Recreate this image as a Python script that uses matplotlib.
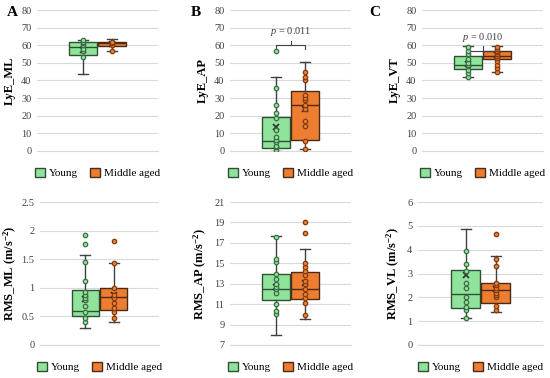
import matplotlib
matplotlib.use('Agg')
import matplotlib.pyplot as plt
from matplotlib.patches import Patch

plt.rcParams['font.family'] = 'serif'
plt.rcParams['font.serif'] = ['Liberation Serif', 'DejaVu Serif']
plt.rcParams['mathtext.fontset'] = 'custom'
plt.rcParams['mathtext.it'] = 'Liberation Serif:italic'
plt.rcParams['mathtext.rm'] = 'Liberation Serif'
plt.rcParams['mathtext.bf'] = 'Liberation Serif:bold'

groups = ['Young', 'Middle aged']
panel_letters = ['A', 'B', 'C', '', '', '']
ylabels = ['LyE_ML', 'LyE_AP', 'LyE_VT',
           'RMS_ML (m/s$^{\\mathbf{-2}}$)', 'RMS_AP (m/s$^{\\mathbf{-2}}$)',
           'RMS_VL (m/s$^{\\mathbf{-2}}$)']
yticks = [[0, 10, 20, 30, 40, 50, 60, 70, 80]] * 3 + [
    [0, 0.5, 1, 1.5, 2, 2.5],
    [7, 9, 11, 13, 15, 17, 19, 21],
    [0, 1, 2, 3, 4, 5, 6]]
ytick_labels = [['0', '10', '20', '30', '40', '50', '60', '70', '80']] * 3 + [
    ['0', '0.5', '1', '1.5', '2', '2.5'],
    ['7', '9', '11', '13', '15', '17', '19', '21'],
    ['0', '1', '2', '3', '4', '5', '6']]
p_values = ['', 'p = 0.011', 'p = 0.010', '', '', '']
p_heights = [None, 60, 57, None, None, None]

# box stats per panel: (whislo, q1, median, q3, whishi, mean)
young_stats = [
    (43.5, 54.5, 59.0, 62.0, 63.0, 57.5),
    (0.2, 1.5, 5.5, 19.5, 42.0, 13.5),
    (42.0, 46.5, 49.0, 54.0, 59.5, 49.5),
    (0.30, 0.51, 0.60, 0.97, 1.57, 0.80),
    (8.0, 11.4, 12.5, 14.0, 17.7, 12.7),
    (1.15, 1.55, 2.12, 3.13, 4.88, 2.95)]
middle_stats = [
    (56.5, 59.5, 61.0, 62.0, 63.5, 60.5),
    (1.0, 6.0, 26.0, 34.0, 50.5, 24.0),
    (45.0, 52.0, 54.0, 57.0, 59.5, 54.5),
    (0.40, 0.62, 0.84, 0.99, 1.43, 0.87),
    (9.5, 11.5, 12.5, 14.1, 16.4, 13.1),
    (1.37, 1.78, 2.30, 2.60, 3.73, 2.35)]

young_points = [
    [53.5, 57, 58, 60, 61, 62, 63],
    [0.5, 2, 3, 5, 6, 8, 12, 19, 21.5, 26, 35.5, 57],
    [42, 44, 46, 48, 49, 50, 52, 55, 57, 59],
    [0.40, 0.48, 0.57, 0.68, 0.78, 0.82, 0.88, 0.93, 1.12, 1.45, 1.77, 1.93],
    [10, 10.3, 11, 12.1, 12.5, 12.7, 13, 13.5, 14, 15.1, 15.4, 17.6],
    [1.15, 1.45, 1.6, 1.8, 2.0, 2.4, 2.6, 3.1, 3.4, 3.93]]
middle_points = [
    [56.5, 60, 61, 62],
    [1, 5.5, 14, 17, 24, 26, 29, 30, 32, 40, 42, 45],
    [45, 47, 49, 51, 53, 54, 55, 56, 57, 58, 59],
    [0.47, 0.57, 0.65, 0.73, 0.83, 0.88, 1.0, 1.43, 1.82],
    [9.9, 11.1, 11.6, 12, 12.5, 13, 13.3, 13.9, 14.2, 14.6, 15, 18, 19],
    [1.47, 1.65, 2.0, 2.1, 2.2, 2.3, 2.4, 2.5, 2.6, 3.3, 3.6, 4.66]]

fills = ['#8fe39b', '#ed7d31']
edges = ['#2f4f34', '#4a2a15']
pt_edges = ['#3d6e45', '#843c0c']

W, H = 550, 378
fig = plt.figure(figsize=(5.5, 3.78), dpi=100)

rects = [(37, 158, 10, 151), (230, 351, 10, 151), (422, 543, 10, 151),
         (40, 159, 202, 345), (230, 351, 202, 345), (418, 543, 202, 345)]
label_pads = [4, 4, 4, 2, 4, 4]
letter_x = [12, 196, 375]
legend_y = [173, 367]

positions = [0.38, 0.62]
bw = 0.23

for i in range(6):
    x0, x1, yt, yb = rects[i]
    ax = fig.add_axes([x0 / W, (H - yb) / H, (x1 - x0) / W, (yb - yt) / H])
    stats = []
    for st in (young_stats[i], middle_stats[i]):
        lo, q1, med, q3, hi, mean = st
        stats.append(dict(whislo=lo, q1=q1, med=med, q3=q3, whishi=hi, mean=mean, fliers=[]))
    bp = ax.bxp(stats, positions=positions, widths=bw, patch_artist=True,
                showmeans=True, showfliers=False, capwidths=0.08)
    for k in range(2):
        bp['boxes'][k].set(facecolor=fills[k], edgecolor=edges[k], linewidth=1.0)
        bp['medians'][k].set(color=edges[k], linewidth=1.0)
        for w in bp['whiskers'][2 * k:2 * k + 2]:
            w.set(color='#404040', linewidth=1.0)
        for c in bp['caps'][2 * k:2 * k + 2]:
            c.set(color='#404040', linewidth=1.0)
        bp['means'][k].set(marker='x', markeredgecolor='#303030', markersize=5,
                           markeredgewidth=1.2)
    for k, pts in enumerate((young_points[i], middle_points[i])):
        ax.plot([positions[k]] * len(pts), pts, linestyle='none', marker='o',
                markersize=3.2, markerfacecolor=fills[k], markeredgecolor=pt_edges[k],
                markeredgewidth=0.9, zorder=4)
    ax.set_xlim(0, 1)
    ax.set_ylim(yticks[i][0], yticks[i][-1])
    ax.set_yticks(yticks[i])
    ax.set_yticklabels(ytick_labels[i])
    ax.set_xticks([])
    ax.tick_params(axis='y', length=0, labelsize=7.5, labelcolor='#404040', pad=4)
    ax.grid(axis='y', color='#d9d9d9', linewidth=0.8)
    ax.set_axisbelow(True)
    for s in ('top', 'right', 'left'):
        ax.spines[s].set_visible(False)
    ax.spines['bottom'].set_color('#d9d9d9')
    ax.set_ylabel(ylabels[i], fontsize=9, fontweight='bold', labelpad=label_pads[i])
    if panel_letters[i]:
        fig.text(letter_x[i] / W, 1 - 13 / H, panel_letters[i], fontsize=11,
                 fontweight='bold', ha='center', va='center')
    if p_values[i]:
        yb_ = p_heights[i]
        rng = yticks[i][-1] - yticks[i][0]
        d = rng * 0.03
        ax.plot([positions[0], positions[0], positions[1], positions[1]],
                [yb_ - d, yb_, yb_, yb_ - d], color='#404040', linewidth=0.8)
        ax.plot([0.5, 0.5], [yb_, yb_ + d], color='#404040', linewidth=0.8)
        ax.text(0.5, yb_ + 1.6 * d, r'$\it{p}$' + p_values[i][1:], ha='center',
                va='bottom', fontsize=7.5, color='#404040')
    handles = [Patch(facecolor=fills[k], edgecolor=edges[k], label=groups[k]) for k in range(2)]
    ly = legend_y[0] if i < 3 else legend_y[1]
    fig.legend(handles=handles, loc='center', ncol=2, frameon=False, fontsize=8,
               bbox_to_anchor=((x0 + x1) / 2 / W, 1 - ly / H), handlelength=0.9,
               handleheight=0.9, handletextpad=0.4, columnspacing=1.0)

fig.savefig('out.png', dpi=100)
